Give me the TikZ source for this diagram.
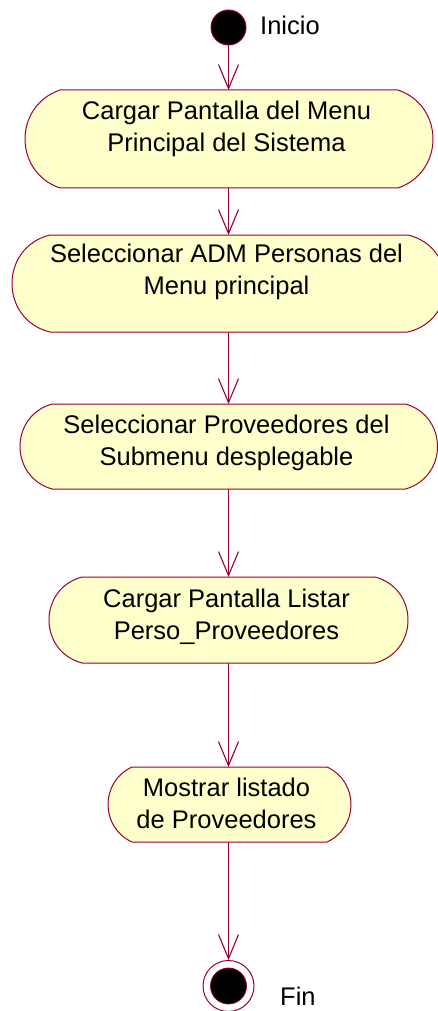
\documentclass[tikz,border=0pt]{standalone}
\usepackage{fontspec}
\setmainfont{Liberation Sans}
\usetikzlibrary{arrows.meta}
\definecolor{umlline}{RGB}{153,0,51}
\definecolor{umlfill}{RGB}{255,255,204}
\tikzset{
  actline/.style={draw=umlline, fill=umlfill, line width=1pt},
  actbox/.style={draw=none, inner sep=0pt, outer sep=0pt, rectangle},
  acttext/.style={inner sep=0pt, align=center, font=\fontsize{25.5}{32}\selectfont},
  flow/.style={draw=umlline, line width=1.1pt, -{Straight Barb[length=24pt, width=20pt, line width=1.1pt]}},
  startdot/.style={circle, draw=umlline, fill=black, line width=1pt, minimum size=35pt, inner sep=0pt},
  endring/.style={circle, draw=umlline, fill=white, line width=1pt, minimum size=51pt, inner sep=0pt},
  enddot/.style={circle, draw=umlline, fill=black, line width=0.8pt, minimum size=36pt, inner sep=0pt}
}
% #1 name, #2 L, #3 T, #4 R, #5 B, #6 inset, #7 first baseline, #8 text
\newcommand\actnode[8]{%
  \pgfmathsetmacro\aHB{(#5-#3)/2}%
  \pgfmathsetmacro\aRad{(#6*#6+\aHB*\aHB)/(2*#6)}%
  \pgfmathsetmacro\aPhi{asin(\aHB/\aRad)}%
  \pgfmathsetmacro\aK{4/3*tan(\aPhi/2)}%
  \pgfmathsetmacro\aXA{#2+#6}%
  \pgfmathsetmacro\aXB{#4-#6}%
  \pgfmathsetmacro\aXCL{#2+#6-\aK*\aHB}%
  \pgfmathsetmacro\aXCR{#4-#6+\aK*\aHB}%
  \pgfmathsetmacro\aYCT{#3+\aK*(\aRad-#6)}%
  \pgfmathsetmacro\aYCB{#5-\aK*(\aRad-#6)}%
  \pgfmathsetmacro\aW{#4-#2}%
  \pgfmathsetmacro\aH{#5-#3}%
  \pgfmathsetmacro\aMX{(#2+#4)/2}%
  \pgfmathsetmacro\aMY{(#3+#5)/2}%
  \pgfmathsetmacro\aTY{#7-20}%
  \path[actline] (\aXA,#3) -- (\aXB,#3) .. controls (\aXCR,\aYCT) and (\aXCR,\aYCB) .. (\aXB,#5) -- (\aXA,#5) .. controls (\aXCL,\aYCB) and (\aXCL,\aYCT) .. cycle;
  \node[actbox, minimum width=\aW pt, minimum height=\aH pt] (#1) at (\aMX,\aMY) {};
  \node[acttext, anchor=north] (#1t) at (226.5,\aTY) {\rule{0pt}{20pt}#8};
}
\begin{document}
\begin{tikzpicture}[x=1pt, y=-1pt]
  \path[fill=white, use as bounding box] (0,0) rectangle (437,1011);
  \node[startdot] (start) at (228.5,27.5) {};
  \node[acttext, anchor=base west] (inicio) at (260,35) {Inicio};

  \actnode{a1}{25}{90}{433}{188}{35}{119}{Cargar Pantalla del Menu\\Principal del Sistema}
  \actnode{a2}{12}{235}{446}{332}{38}{262}{Seleccionar ADM Personas del\\Menu principal}
  \actnode{a3}{20}{404}{437.5}{489}{32}{433}{Seleccionar Proveedores del\\Submenu desplegable}
  \actnode{a4}{49}{577}{408}{663}{33}{607}{Cargar Pantalla Listar\\Perso\_Proveedores}
  \actnode{a5}{108}{767}{351}{842}{24}{796}{Mostrar listado\\de Proveedores}

  \node[endring] (fin) at (228.5,986) {};
  \node[enddot] (findot) at (228.5,986) {};
  \node[acttext, anchor=base west] (finlabel) at (280,1005) {Fin};

  \draw[flow] (start.south) -- (a1.north -| start.center);
  \draw[flow] (a1.south -| start.center) -- (a2.north -| start.center);
  \draw[flow] (a2.south -| start.center) -- (a3.north -| start.center);
  \draw[flow] (a3.south -| start.center) -- (a4.north -| start.center);
  \draw[flow] (a4.south -| start.center) -- (a5.north -| start.center);
  \draw[flow] (a5.south -| start.center) -- (fin.north);
\end{tikzpicture}
\end{document}
